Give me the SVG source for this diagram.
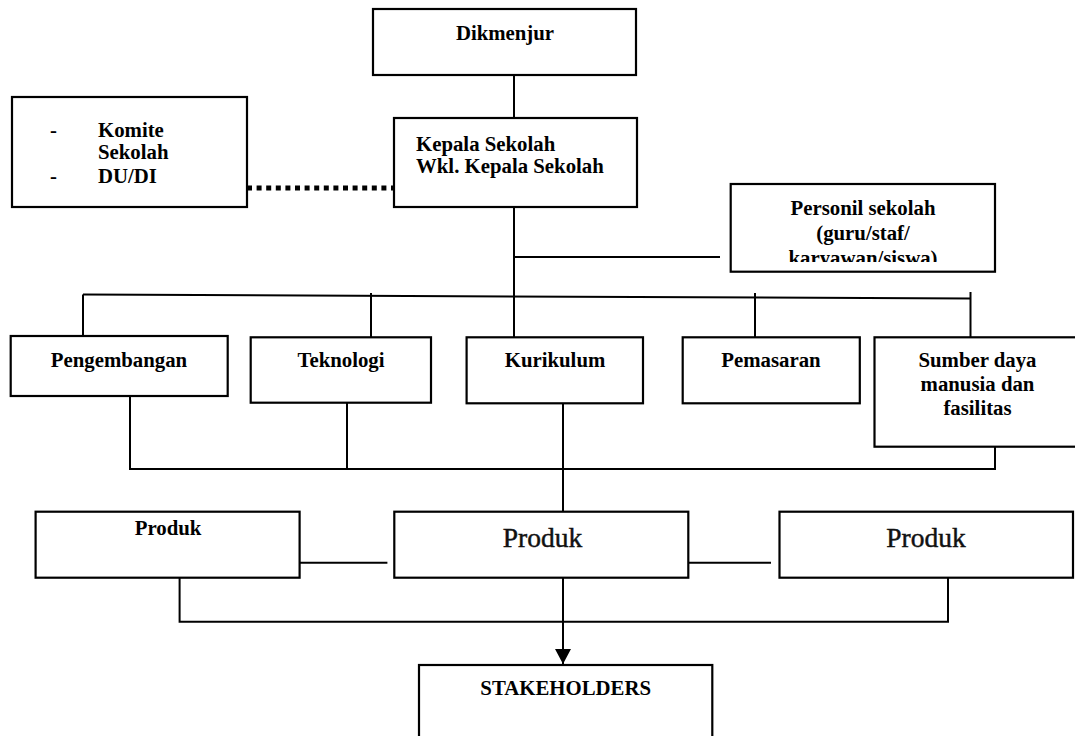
<svg xmlns="http://www.w3.org/2000/svg" width="1075" height="736" viewBox="0 0 1075 736">
<style>
.box{fill:#fff;stroke:#000;stroke-width:2.2}
.t{font-family:"Liberation Serif","Times New Roman",serif;font-weight:bold;font-size:20.8px;fill:#000}
.c{text-anchor:middle}
.p{font-family:"Liberation Serif","Times New Roman",serif;font-size:27.5px;fill:#111;stroke:#111;stroke-width:0.45;text-anchor:middle}
.ln{stroke:#000;stroke-width:2;fill:none}
</style>
<defs>
<marker id="arr" markerWidth="16" markerHeight="16" refX="15" refY="8" orient="auto" markerUnits="userSpaceOnUse">
<path d="M0,0 L15,8 L0,16 Z" fill="#000"/>
</marker>
<clipPath id="pclip"><rect x="730" y="184" width="266" height="78"/></clipPath>
</defs>
<rect width="1075" height="736" fill="#fff"/>
<g id="connectors">
<line class="ln" x1="514" y1="75" x2="514" y2="118"/>
<line x1="247" y1="188" x2="394" y2="188" stroke="#000" stroke-width="5" stroke-dasharray="5 4.6"/>
<line class="ln" x1="514" y1="207" x2="514" y2="337"/>
<line class="ln" x1="514" y1="257" x2="720" y2="257"/>
<line class="ln" x1="83" y1="294.5" x2="970.5" y2="298.5"/>
<line class="ln" x1="83" y1="294.5" x2="83" y2="336"/>
<line class="ln" x1="371" y1="293" x2="371" y2="337"/>
<line class="ln" x1="755" y1="293" x2="755" y2="337"/>
<line class="ln" x1="970.5" y1="292" x2="970.5" y2="337"/>
<polyline class="ln" points="130,396 130,469 995,469 995,447"/>
<line class="ln" x1="347" y1="403" x2="347" y2="469"/>
<line class="ln" x1="563" y1="403" x2="563" y2="512"/>
<line class="ln" x1="300" y1="562.7" x2="387.4" y2="562.7"/>
<line class="ln" x1="682.7" y1="562.7" x2="771" y2="562.7"/>
<polyline class="ln" points="179.6,578 179.6,621.7 948,621.7 948,578"/>
<line class="ln" x1="563" y1="578" x2="563" y2="664" marker-end="url(#arr)"/>
</g>
<g id="dikmenjur"><rect class="box" x="373" y="9" width="263" height="66"/><text class="t c" x="505" y="40">Dikmenjur</text></g>
<g id="komite"><rect class="box" x="12" y="97" width="235" height="110"/>
<text class="t" x="50" y="137" font-weight="normal">-</text><text class="t" x="98" y="137">Komite</text><text class="t" x="98" y="159">Sekolah</text>
<text class="t" x="50" y="183" font-weight="normal">-</text><text class="t" x="98" y="183">DU/DI</text></g>
<g id="kepala"><rect class="box" x="394" y="118" width="243" height="89"/><text class="t" x="416" y="151">Kepala Sekolah</text><text class="t" x="416" y="173">Wkl. Kepala Sekolah</text></g>
<g id="personil"><rect class="box" x="730.7" y="184" width="264.3" height="87.7"/>
<g clip-path="url(#pclip)"><text class="t c" x="863" y="215">Personil sekolah</text><text class="t c" x="863" y="240">(guru/staf/</text><text class="t c" x="863" y="265">karyawan/siswa)</text></g></g>
<g id="pengembangan"><rect class="box" x="10.7" y="336" width="217" height="60"/><text class="t c" x="119" y="367">Pengembangan</text></g>
<g id="teknologi"><rect class="box" x="250.7" y="337.3" width="180.3" height="65.4"/><text class="t c" x="341" y="367">Teknologi</text></g>
<g id="kurikulum"><rect class="box" x="466.6" y="337.3" width="176.4" height="66"/><text class="t c" x="555" y="367">Kurikulum</text></g>
<g id="pemasaran"><rect class="box" x="682.7" y="337.3" width="177.1" height="66"/><text class="t c" x="771" y="367">Pemasaran</text></g>
<g id="sumber"><rect class="box" x="874.5" y="337.3" width="206" height="109.4"/><text class="t c" x="977.5" y="367">Sumber daya</text><text class="t c" x="977.5" y="391">manusia dan</text><text class="t c" x="977.5" y="415">fasilitas</text></g>
<g id="produk1"><rect class="box" x="35.6" y="511.7" width="264" height="66"/><text class="t c" x="168" y="535">Produk</text></g>
<g id="produk2"><rect class="box" x="394.3" y="511.7" width="294" height="66"/><text class="p" x="542.5" y="546.7">Produk</text></g>
<g id="produk3"><rect class="box" x="779.5" y="511.7" width="293.5" height="66"/><text class="p" x="926" y="546.7">Produk</text></g>
<g id="stakeholders"><rect class="box" x="419" y="665" width="293.3" height="80"/><text class="t c" x="565.7" y="695">STAKEHOLDERS</text></g>
</svg>
